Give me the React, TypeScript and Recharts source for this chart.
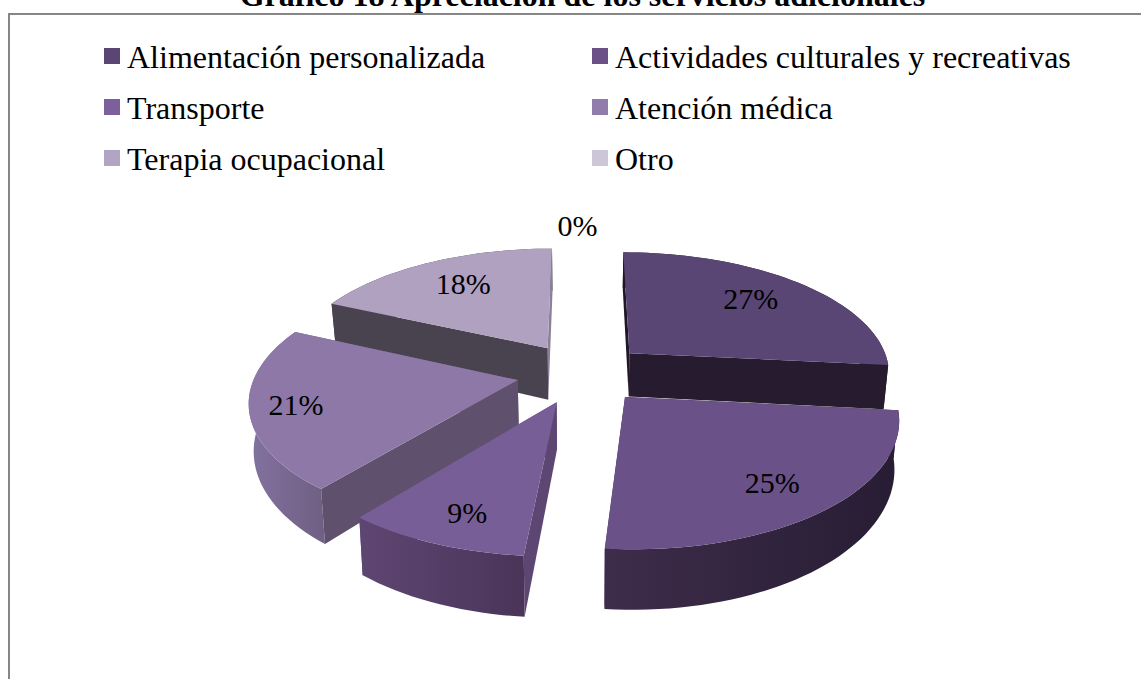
import React from "react";
import { PieChart, Pie, Legend } from "recharts";

const TITLE = "Gráfico 18 Apreciación de los servicios adicionales";
const names = ["Alimentación personalizada", "Actividades culturales y recreativas", "Transporte", "Atención médica", "Terapia ocupacional", "Otro"];
const values = [26.6, 24.8, 9.4, 21.0, 18.2, 0];
const topColors = ["#5a4674", "#6a5187", "#785e97", "#8d78a8", "#b0a1c0", "#cdc6d9"];
const swatchColors = ["#5b4673", "#6b5087", "#7e5f9d", "#917cab", "#b2a5c4", "#cdc6d9"];
const innerWallStart = ["#1f1628", "#2a2036", "#5e4672", "#5f506d", "#49434f", "#49434f"];
const innerWallEnd = ["#261b2f", "#3e2c4b", "#664e85", "#6f5f82", "#8a8099", "#8a8099"];
const outerLeft = ["#261b2f", "#3e2c4b", "#5e4672", "#8272a0", "#49434f", "#49434f"];
const outerRight = ["#261b2f", "#271d33", "#4a3559", "#6f5f82", "#49434f", "#49434f"];
const depthScale = [1, 1, 1, 1, 1.2, 1];
const labelFrac = [0.73, 0.77, 0.8, 0.83, 0.72, 1.23];
const labelTurn = [-2, 1, -1.5, 0, 1.5, -1];

const EXPLODE = 0.25;
const PERSP = 0.15;
const TILT = 0.4634;
const DEPTH = 45;
const TAPER = 0.015;

type Row = { name: string; value: number; fill: string; idx: number };
// Drawn far-to-near, so the table runs counter-clockwise from the top.
const table: Row[] = names
  .map((name, idx) => ({ name, value: values[idx], fill: swatchColors[idx], idx }))
  .reverse();

const rad = (d: number) => (d * Math.PI) / 180;

function project(u: number, v: number, h: number, cx: number, cy: number, R: number): [number, number] {
  const s = 1 / (1 + PERSP * v);
  const k = 1 - TAPER * h;
  return [cx + R * u * s * k, cy - R * TILT * v * s + DEPTH * h * Math.pow(s, 1.5)];
}

const pts = (p: [number, number][]) => p.map((q) => q.map((n) => n.toFixed(2)).join(",")).join(" ");

function Slice3D(props: any) {
  const { cx, cy, outerRadius: R, startAngle, endAngle, payload } = props;
  const row: Row = payload?.payload ?? payload;
  const idx = row.idx;
  const a0 = 90 - Math.max(startAngle, endAngle);
  const a1 = 90 - Math.min(startAngle, endAngle);
  if (a1 - a0 < 0.01) return <g />;
  const mid = rad((a0 + a1) / 2);
  const ou = EXPLODE * Math.sin(mid);
  const ov = EXPLODE * Math.cos(mid);
  const n = Math.max(2, Math.ceil((a1 - a0) / 2));
  const rim: [number, number][] = [];
  for (let i = 0; i <= n; i++) {
    const t = rad(a0 + ((a1 - a0) * i) / n);
    rim.push([ou + Math.sin(t), ov + Math.cos(t)]);
  }
  const H = depthScale[idx];
  const P = (q: [number, number], h: number) => project(q[0], q[1], h * H, cx, cy, R);
  const apex: [number, number] = [ou, ov];
  const gradId = `wall-${idx}`;
  const outerPoly = [...rim.map((q) => P(q, 0)), ...rim.slice().reverse().map((q) => P(q, 1))];
  const xs = outerPoly.map((q) => q[0]);
  const faces: { v: number; poly: [number, number][]; color: string }[] = [
    { v: (apex[1] + rim[0][1]) / 2, color: innerWallStart[idx], poly: [P(apex, 0), P(rim[0], 0), P(rim[0], 1), P(apex, 1)] },
    { v: (apex[1] + rim[n][1]) / 2, color: innerWallEnd[idx], poly: [P(apex, 0), P(rim[n], 0), P(rim[n], 1), P(apex, 1)] },
    { v: rim.reduce((s, q) => s + q[1], 0) / rim.length, color: `url(#${gradId})`, poly: outerPoly },
  ];
  faces.sort((f, g) => g.v - f.v);
  return (
    <g>
      <defs>
        <linearGradient id={gradId} gradientUnits="userSpaceOnUse" x1={Math.min(...xs)} x2={Math.max(...xs)} y1={0} y2={0}>
          <stop offset="0" stopColor={outerLeft[idx]} />
          <stop offset="1" stopColor={outerRight[idx]} />
        </linearGradient>
      </defs>
      {faces.map((f, i) => (
        <polygon key={i} points={pts(f.poly)} fill={f.color} />
      ))}
      <polygon points={pts([P(apex, 0), ...rim.map((q) => P(q, 0))])} fill={topColors[idx]} />
    </g>
  );
}

function SliceLabel(props: any) {
  const { cx, cy, outerRadius: R, midAngle, payload, value } = props;
  const row: Row = payload?.payload ?? payload;
  const idx = row.idx;
  const t0 = rad(90 - midAngle);
  const t = t0 + rad(labelTurn[idx]);
  const f = labelFrac[idx];
  const ou = EXPLODE * Math.sin(t0);
  const ov = EXPLODE * Math.cos(t0);
  const [x, y] = project(ou + f * Math.sin(t), ov + f * Math.cos(t), 0, cx, cy, R);
  return (
    <text x={x} y={y} textAnchor="middle" dominantBaseline="central" fontFamily="'Liberation Serif', serif" fontSize={30} fill="#000">
      {`${Math.round(value)}%`}
    </text>
  );
}

function LegendGrid(props: any) {
  const items = names.map((nm) => (props.payload ?? []).find((p: any) => p.value === nm)).filter(Boolean);
  const colX = [104, 592];
  const rowY = [37, 88, 139];
  return (
    <div>
      {items.map((it: any, i: number) => (
        <div key={it.value} style={{ position: "absolute", left: colX[i % 2], top: rowY[Math.floor(i / 2)], display: "flex", alignItems: "center", height: 40, whiteSpace: "nowrap" }}>
          <span style={{ display: "inline-block", width: 16, height: 16, background: it.color, marginRight: 7, position: "relative", top: -1 }} />
          <span style={{ fontFamily: "'Liberation Serif', serif", fontSize: 32, color: "#000" }}>{it.value}</span>
        </div>
      ))}
    </div>
  );
}

export default function App() {
  return (
    <div style={{ position: "fixed", left: 0, top: 0, width: 1141, height: 679, overflow: "hidden", background: "#fff" }}>
      <div style={{ position: "absolute", left: 8, top: 13, width: 1133, height: 666, borderTop: "2px solid #868686", borderLeft: "2px solid #868686", boxSizing: "border-box" }} />
      <div style={{ position: "absolute", left: 12, width: 1141, top: -20, textAlign: "center", fontFamily: "'Liberation Serif', serif", fontWeight: "bold", fontSize: 32, color: "#000", whiteSpace: "nowrap", lineHeight: "30px" }}>
        {TITLE}
      </div>
      <PieChart width={1141} height={679} style={{ position: "absolute", left: 0, top: 0 }}>
        <Pie
          data={table}
          dataKey="value"
          nameKey="name"
          cx={577}
          cy={368}
          outerRadius={262}
          startAngle={90}
          endAngle={450}
          stroke="none"
          isAnimationActive={false}
          shape={Slice3D}
          label={SliceLabel}
          labelLine={false}
        />
        <Legend content={LegendGrid} wrapperStyle={{ position: "absolute", left: 0, top: 0, width: 1141, height: 0 }} />
      </PieChart>
    </div>
  );
}
